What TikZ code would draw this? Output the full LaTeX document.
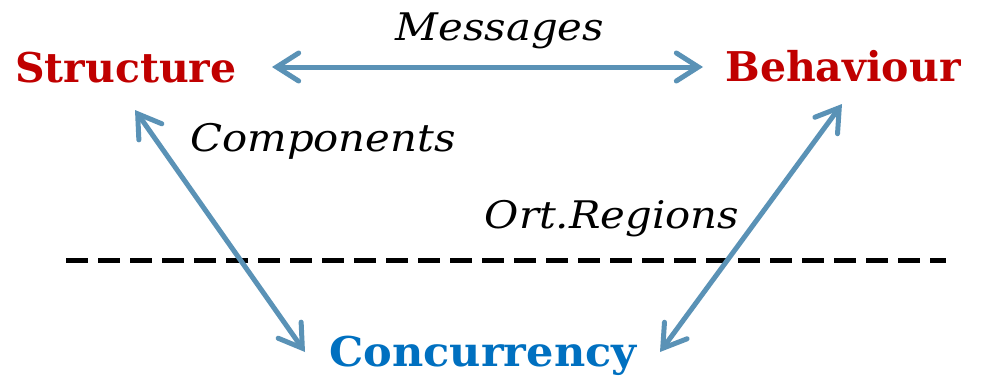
\documentclass[tikz,border=0pt]{standalone}
\usepackage{fontspec}
\setmainfont{DejaVu Serif}
\newfontfamily\relfont[FakeStretch=1.1]{DejaVu Serif}
\usetikzlibrary{arrows.meta}
\definecolor{headred}{HTML}{C00000}
\definecolor{headblue}{HTML}{0070C0}
\definecolor{linkblue}{HTML}{5A92B6}
\tikzset{
  concept/.style={font=\bfseries\fontsize{41}{41}\selectfont, inner sep=0pt},
  relation/.style={font=\relfont\itshape\fontsize{38}{38}\selectfont, inner sep=0pt},
  barb/.tip={Straight Barb[length=22pt,width=28pt,line cap=round]},
  link/.style={draw=linkblue, line width=5pt, line cap=round, barb-barb},
  divider/.style={draw=black, line width=5pt, dash pattern=on 22pt off 10pt}
}
\begin{document}
\begin{tikzpicture}[x=1pt,y=-1pt]
\useasboundingbox (0,0) rectangle (983,381);
% the three concepts
\node[concept, text=headred] (structure) at (126,68) {Structure};
\node[concept, text=headred] (behaviour) at (843,66) {Behaviour};
\node[concept, text=headblue, xscale=1.05] (concurrency) at (483,356) {Concurrency};
% relation labels
\node[relation] (messages) at (500,31) {Messages};
\node[relation] (components) at (323,141) {Components};
\node[relation] (regions) at (612,219) {Ort.Regions};
% end points of the links and of the dividing line
\coordinate (s1) at (272,67);
\coordinate (b1) at (703,67);
\coordinate (s2) at (135,110);
\coordinate (c1) at (305,352);
\coordinate (b2) at (842,104);
\coordinate (c2) at (660,352);
\coordinate (d1) at (66,260);
\coordinate (d2) at (946,260);
\draw[divider] (d1) -- (d2);
\draw[link] (s1) -- (b1);
\draw[link] (s2) -- (c1);
\draw[link] (b2) -- (c2);
\end{tikzpicture}
\end{document}
